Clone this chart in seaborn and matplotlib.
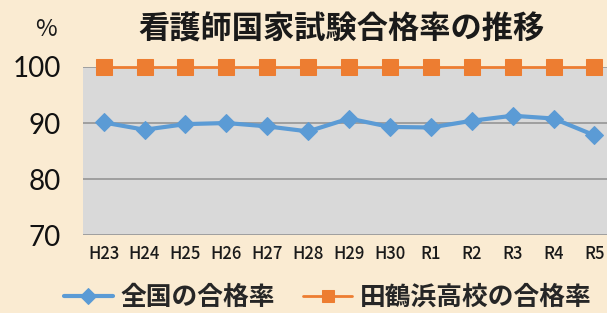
import pandas as pd
import numpy as np
import matplotlib
matplotlib.use("Agg")
import matplotlib.pyplot as plt
import seaborn as sns

years = ['H23', 'H24', 'H25', 'H26', 'H27', 'H28', 'H29', 'H30', 'R1', 'R2', 'R3', 'R4', 'R5']
national = [90.1, 88.8, 89.8, 90.0, 89.4, 88.5, 90.8, 89.3, 89.2, 90.4, 91.3, 90.8, 87.8]
school = [100, 100, 100, 100, 100, 100, 100, 100, 100, 100, 100, 100, 100]
series_names = ['全国の合格率', '田鶴浜高校の合格率']
title = '看護師国家試験合格率の推移'

if __name__ == '__main__':
    sns.set_style("white")
    plt.rcParams['font.family'] = ['Noto Sans CJK JP', 'DejaVu Sans']

    df = pd.DataFrame({'year': years * 2,
                       'rate': national + school,
                       'series': [series_names[0]] * len(years) + [series_names[1]] * len(years)})

    bg = '#FAEBD2'
    fig = plt.figure(figsize=(6.07, 3.13), dpi=100, facecolor=bg)
    ax = fig.add_axes([0.137, 0.249, 0.876, 0.537])
    ax.set_facecolor('#D9D9D9')

    sns.lineplot(data=df[df.series == series_names[0]], x='year', y='rate', sort=False,
                 color='#5B9BD5', linewidth=3, marker='D', markersize=9,
                 markeredgecolor='#5B9BD5', label=series_names[0], ax=ax, clip_on=False, zorder=4)
    sns.lineplot(data=df[df.series == series_names[1]], x='year', y='rate', sort=False,
                 color='#ED7D31', linewidth=2, marker='s', markersize=11,
                 markeredgecolor='#ED7D31', label=series_names[1], ax=ax, clip_on=False, zorder=5)

    ax.set_ylim(70, 100)
    ax.set_xlim(-0.5, 12.5)
    ax.set_yticks([70, 80, 90, 100])
    ax.yaxis.grid(True, color='#9A9A9A', linewidth=1.3)
    ax.set_axisbelow(True)
    ax.tick_params(axis='y', labelsize=20, length=0, pad=16)
    ax.tick_params(axis='x', labelsize=12, length=0, pad=7)
    for lbl in ax.get_xticklabels():
        lbl.set_fontweight('medium')
        lbl.set_color('#1a1a1a')
    for lbl in ax.get_yticklabels():
        lbl.set_family(['Lato', 'DejaVu Sans'])
        lbl.set_color('#111111')
    ax.set_xlabel('')
    ax.set_ylabel('')
    for s in ax.spines.values():
        s.set_visible(False)

    fig.text(0.563, 0.905, title, ha='center', va='center', fontsize=22.5, fontweight='bold', color='#1a1a1a')
    fig.text(0.075, 0.905, '%', ha='center', va='center', fontsize=17, color='#1a1a1a')

    handles, labels = ax.get_legend_handles_labels()
    ax.legend_.remove()
    fig.legend(handles, labels, loc='center', bbox_to_anchor=(0.54, 0.05), ncol=2, frameon=False,
               prop={'size': 18.5, 'weight': 'bold'}, handlelength=1.9, columnspacing=1.1,
               handletextpad=0.3, markerscale=0.85)

    fig.savefig('out.png', dpi=100, facecolor=bg)
